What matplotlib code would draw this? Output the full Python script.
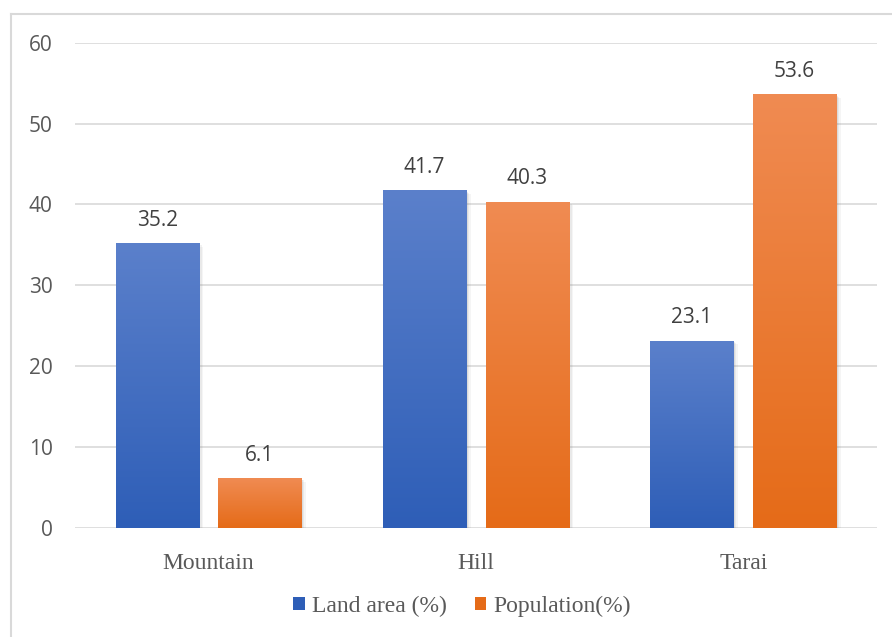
import numpy as np
import matplotlib
matplotlib.use("Agg")
import matplotlib.pyplot as plt
import matplotlib.patheffects as pe
from matplotlib.colors import LinearSegmentedColormap
from matplotlib.lines import Line2D

# Data
regions = ["Mountain", "Hill", "Tarai"]
land_area = [35.2, 41.7, 23.1]
population = [6.1, 40.3, 53.6]
series_names = ["Land area (%)", "Population(%)"]
y_ticks = [0, 10, 20, 30, 40, 50, 60]

# Vertical gradient colours (top, bottom)
blue_grad = ("#5B80CB", "#2E5EB7")
orange_grad = ("#F08B52", "#E56B18")

W, H = 892, 637
fig = plt.figure(figsize=(W / 100, H / 100), dpi=100)
fig.patch.set_facecolor("white")

ax = fig.add_axes([75 / W, 1 - 527.7 / H, (877 - 75) / W, (527.7 - 42.7) / H])
ax.set_facecolor("white")

x = np.arange(len(regions))
bar_w = 0.312
off = 0.192

# Soft drop shadow built from a few faint offset copies
shadow = [pe.SimplePatchShadow(offset=(3, -2.5), shadow_rgbFace="#808080", alpha=0.08),
          pe.SimplePatchShadow(offset=(2, -1.5), shadow_rgbFace="#808080", alpha=0.10),
          pe.SimplePatchShadow(offset=(1, -1), shadow_rgbFace="#808080", alpha=0.14),
          pe.Normal()]


def gradient_bars(xpos, values, colors, label):
    bars = ax.bar(xpos, values, width=bar_w, color=colors[1], zorder=3,
                  label=label, linewidth=0)
    cmap = LinearSegmentedColormap.from_list("g", [colors[1], colors[0]])
    grad = np.linspace(0, 1, 256).reshape(-1, 1)
    for b in bars:
        b.set_path_effects(shadow)
        x0 = b.get_x()
        x1 = x0 + b.get_width()
        h = b.get_height()
        ax.imshow(grad, extent=(x0, x1, 0, h), origin="lower", cmap=cmap,
                  aspect="auto", zorder=3.1, interpolation="bicubic")
    return bars


b1 = gradient_bars(x - off, land_area, blue_grad, series_names[0])
b2 = gradient_bars(x + off, population, orange_grad, series_names[1])

label_font = dict(family=["Open Sans", "DejaVu Sans"], size=15, color="#404040")
for bars, vals in ((b1, land_area), (b2, population)):
    for b, v in zip(bars, vals):
        ax.annotate(f"{v}", (b.get_x() + b.get_width() / 2, v),
                    xytext=(0, 9), textcoords="offset points",
                    ha="center", va="bottom", zorder=5, **label_font)

ax.set_xlim(-0.5, 2.5)
ax.set_ylim(0, 60)
ax.set_yticks(y_ticks)
ax.set_yticklabels([str(t) for t in y_ticks], fontfamily=["Open Sans", "DejaVu Sans"],
                   fontsize=15, color="#595959")
ax.set_xticks(x)
ax.set_xticklabels(regions, fontfamily=["Liberation Serif", "DejaVu Serif"],
                   fontsize=17, color="#595959")
ax.tick_params(axis="y", length=0, pad=16)
ax.tick_params(axis="x", length=0, pad=18)
for s in ax.spines.values():
    s.set_visible(False)
ax.yaxis.grid(True, color="#D9D9D9", linewidth=1.2, zorder=0)
ax.set_axisbelow(True)

# Legend
leg = fig.legend(handles=[b1, b2], labels=series_names, loc="center",
                 bbox_to_anchor=(462 / W, 1 - 606 / H), ncol=2, frameon=False,
                 prop=dict(family=["Liberation Serif", "DejaVu Serif"], size=17),
                 handlelength=0.47, handleheight=0.47, handletextpad=0.3,
                 columnspacing=1.2, labelcolor="#595959")
for h, c in zip(leg.legend_handles, (blue_grad, orange_grad)):
    h.set_color(c[1])
    h.set_path_effects([])

# Chart frame
fig.add_artist(Line2D([11 / W, 11 / W], [0, 1 - 14 / H], transform=fig.transFigure,
                      color="#D9D9D9", linewidth=1.5))
fig.add_artist(Line2D([11 / W, 1], [1 - 14 / H, 1 - 14 / H], transform=fig.transFigure,
                      color="#D9D9D9", linewidth=1.5))

fig.savefig("out.png", dpi=100, facecolor="white")
